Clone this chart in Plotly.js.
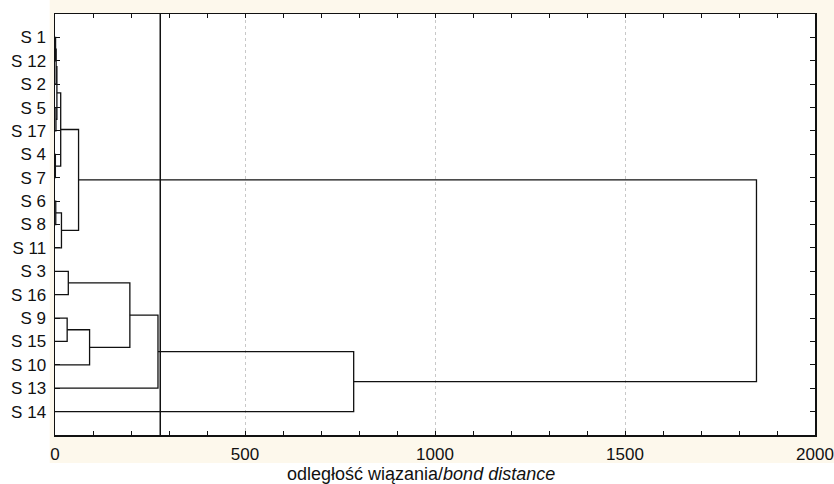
<!DOCTYPE html>
<html>
<head>
<meta charset="utf-8">
<script src="https://cdn.plot.ly/plotly-3.0.1.min.js"></script>
<style>html,body{margin:0;padding:0;background:#fff;}#chart{width:834px;height:484px;}</style>
</head>
<body>
<div id="chart"></div>
<script>
// Leaves, top to bottom
const leafLabels = ['S 1','S 12','S 2','S 5','S 17','S 4','S 7','S 6','S 8','S 11','S 3','S 16','S 9','S 15','S 10','S 13','S 14'];
// Merges: new node ids start at leafLabels.length (17)
const mergeLeft   = [0, 17, 3, 18, 5, 20, 7, 23, 22, 10, 12, 27, 26, 29, 30, 25];
const mergeRight  = [1, 2, 4, 19, 6, 21, 8, 9, 24, 11, 13, 14, 28, 15, 16, 31];
const mergeHeight = [1.5, 3, 2.5, 5, 1, 15, 2, 17, 62, 35, 32, 91, 197, 271, 786, 1846];
const cutDistance = 277;
const xTicks = [0, 500, 1000, 1500, 2000];

const pos = leafLabels.map((_, i) => i);
const hgt = leafLabels.map(() => 0);
const xs = [], ys = [];
for (let k = 0; k < mergeLeft.length; k++) {
  const L = mergeLeft[k], R = mergeRight[k], h = mergeHeight[k];
  xs.push(hgt[L], h, h, hgt[R], null);
  ys.push(pos[L], pos[L], pos[R], pos[R], null);
  pos.push((pos[L] + pos[R]) / 2);
  hgt.push(h);
}

const trace = {
  type: 'scatter', mode: 'lines', x: xs, y: ys,
  line: {color: '#111', width: 1.3}, hoverinfo: 'skip', showlegend: false
};

const font = {family: 'Liberation Sans, Arial, sans-serif', size: 17, color: '#111'};
const layout = {
  width: 834, height: 484,
  margin: {l: 55, r: 19, t: 14, b: 49},
  paper_bgcolor: '#ffffff', plot_bgcolor: '#ffffff',
  font: font,
  showlegend: false,
  xaxis: {
    range: [0, 2000], tickvals: xTicks, ticktext: xTicks.map(String),
    ticks: 'inside', ticklen: 4, tickcolor: '#111', tickwidth: 1,
    minor: {dtick: 100, tick0: 0, ticks: 'inside', ticklen: 4, tickcolor: '#111', showgrid: false},
    showline: true, linecolor: '#111', linewidth: 1.5, mirror: 'allticks',
    showgrid: true, gridcolor: '#c8c8c8', griddash: 'dot', gridwidth: 1,
    zeroline: false, tickfont: {size: 17}, ticklabelstandoff: 3, fixedrange: true
  },
  yaxis: {
    range: [17, -1], tickvals: leafLabels.map((_, i) => i), ticktext: leafLabels,
    ticks: 'inside', ticklen: 5, tickcolor: '#111', tickwidth: 1,
    showline: true, linecolor: '#111', linewidth: 1.5, mirror: 'allticks',
    showgrid: false, zeroline: false, tickfont: {size: 17}, ticklabelstandoff: 4, fixedrange: true
  },
  shapes: [
    {type: 'rect', xref: 'paper', yref: 'paper', x0: -0.007, x1: 1.03, y0: -0.0665, y1: 1.04,
     fillcolor: '#fdf8ec', line: {width: 0}, layer: 'below'},
    {type: 'rect', xref: 'paper', yref: 'paper', x0: 0, x1: 1, y0: 0, y1: 1,
     fillcolor: '#ffffff', line: {width: 0}, layer: 'below'},
    {type: 'line', xref: 'x', yref: 'paper', x0: cutDistance, x1: cutDistance, y0: 0, y1: 1,
     line: {color: '#111', width: 1.5}}
  ],
  annotations: [
    {xref: 'paper', yref: 'paper', x: 0.482, y: -0.093, xanchor: 'center', yanchor: 'middle',
     showarrow: false, text: 'odległość wiązania/<i>bond distance</i>', font: {size: 18, color: '#111'}}
  ]
};

Plotly.newPlot('chart', [trace], layout, {displayModeBar: false, staticPlot: true});
</script>
</body>
</html>
